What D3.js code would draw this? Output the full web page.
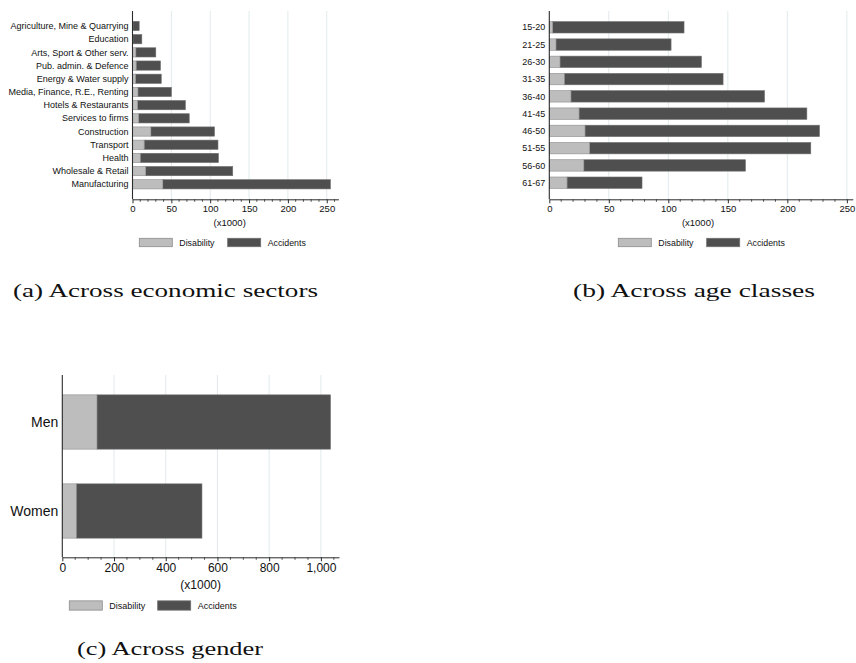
<!DOCTYPE html>
<html>
<head>
<meta charset="utf-8">
<script src="https://cdn.jsdelivr.net/npm/d3@7"></script>
<style>
  html, body { margin: 0; padding: 0; background: #fff; }
  svg { display: block; }
  .sans { font-family: "Liberation Sans", Arial, Helvetica, sans-serif; }
  .serif { font-family: "Liberation Serif", "Times New Roman", serif; }
</style>
</head>
<body>
<svg id="chart" width="856" height="663"></svg>
<script>
// Economic sectors (thousands)
const sectors = ["Agriculture, Mine & Quarrying", "Education", "Arts, Sport & Other serv.",
  "Pub. admin. & Defence", "Energy & Water supply", "Media, Finance, R.E., Renting",
  "Hotels & Restaurants", "Services to firms", "Construction", "Transport", "Health",
  "Wholesale & Retail", "Manufacturing"];
const sectorDisability = [0.5, 0.5, 4.3, 4.7, 4, 7, 6.5, 8, 23.6, 15, 10, 17, 39];
const sectorAccidents  = [8.1, 11.5, 25.7, 31.3, 33, 43, 61.5, 65, 81.9, 95, 100.6, 112, 215.7];

// Age classes (thousands)
const ageClasses = ["15-20", "21-25", "26-30", "31-35", "36-40", "41-45", "46-50", "51-55", "56-60", "61-67"];
const ageDisability = [2.8, 5.6, 9, 12.6, 18.2, 25, 30, 33.9, 29, 14.9];
const ageAccidents  = [110.4, 96.7, 118.8, 133.4, 162.6, 191.4, 197, 185.8, 135.8, 63];

// Gender (thousands)
const genders = ["Men", "Women"];
const genderDisability = [134, 54];
const genderAccidents  = [903, 486];

// Axis ticks
const ticksSmall = [0, 50, 100, 150, 200, 250];
const ticksLarge = [0, 200, 400, 600, 800, 1000];
const seriesNames = ["Disability", "Accidents"];

const LIGHT = "#bdbdbd", LIGHT_EDGE = "#8c8c8c";
const DARK = "#4f4f4f", DARK_EDGE = "#6e6e6e";
const GRID = "#e1eaed", AXIS = "#2b2b2b";

const svg = d3.select("#chart");

function panel(o) {
  const g = svg.append("g").attr("class", "sans");
  const x = d3.scaleLinear().domain([0, o.xMax]).range([o.x0, o.x1]);
  const y = d3.scalePoint().domain(o.cats).range([o.yFirst, o.yLast]);
  const bh = y.step() * o.barFrac;

  // gridlines
  g.selectAll("line.grid").data(o.ticks.filter(t => t > 0)).join("line")
    .attr("x1", d => x(d)).attr("x2", d => x(d))
    .attr("y1", o.yTop).attr("y2", o.yBottom)
    .attr("stroke", GRID).attr("stroke-width", 1);

  // stacked bars: disability then accidents
  const rows = o.cats.map((c, i) => ({ c, d: o.dis[i], a: o.acc[i] }));
  g.selectAll("rect.acc").data(rows).join("rect")
    .attr("x", r => x(r.d)).attr("width", r => x(r.d + r.a) - x(r.d))
    .attr("y", r => y(r.c) - bh / 2).attr("height", bh)
    .attr("fill", DARK).attr("stroke", DARK_EDGE).attr("stroke-width", 0.6);
  g.selectAll("rect.dis").data(rows).join("rect")
    .attr("x", r => x(0)).attr("width", r => x(r.d) - x(0))
    .attr("y", r => y(r.c) - bh / 2).attr("height", bh)
    .attr("fill", LIGHT).attr("stroke", LIGHT_EDGE).attr("stroke-width", 0.6);

  // category labels
  g.selectAll("text.cat").data(o.cats).join("text")
    .attr("x", o.x0 - 4).attr("y", d => y(d)).attr("dy", "0.35em")
    .attr("text-anchor", "end").attr("font-size", o.catSize).attr("fill", "#111")
    .text(d => d);

  // x axis with major and minor ticks
  const xAxis = g.append("g").attr("transform", `translate(0,${o.yBottom})`)
    .call(d3.axisBottom(x).tickValues(o.ticks).tickSize(4).tickSizeOuter(0)
      .tickFormat(d3.format(",")));
  xAxis.select(".domain").attr("stroke", AXIS);
  xAxis.selectAll(".tick line").attr("stroke", AXIS);
  xAxis.selectAll(".tick text").attr("font-size", o.tickSize).attr("font-family", null)
    .attr("fill", "#111").attr("y", 6);
  const minor = d3.range(0, o.xMax + 0.001, o.minorStep).filter(v => !o.ticks.includes(v));
  xAxis.selectAll("line.minor").data(minor).join("line")
    .attr("x1", d => x(d)).attr("x2", d => x(d)).attr("y1", 0).attr("y2", 2.5)
    .attr("stroke", AXIS).attr("stroke-width", 0.8);

  // y axis line
  g.append("line").attr("x1", o.x0).attr("x2", o.x0)
    .attr("y1", o.yTop).attr("y2", o.yBottom)
    .attr("stroke", AXIS).attr("stroke-width", 1.1);

  // axis title
  g.append("text").attr("x", o.titleX).attr("y", o.titleY).attr("dy", "0.35em")
    .attr("text-anchor", "middle").attr("font-size", o.tickSize).attr("fill", "#111")
    .text("(x1000)");

  // legend
  const lg = g.append("g");
  seriesNames.forEach((s, i) => {
    lg.append("rect").attr("x", o.legX[i]).attr("y", o.legY - o.legH / 2)
      .attr("width", 33).attr("height", o.legH)
      .attr("fill", i === 0 ? LIGHT : DARK)
      .attr("stroke", i === 0 ? LIGHT_EDGE : DARK_EDGE).attr("stroke-width", 0.8);
    lg.append("text").attr("x", o.legX[i] + 40).attr("y", o.legY).attr("dy", "0.35em")
      .attr("font-size", o.legSize).attr("fill", "#111").text(s);
  });

  // caption
  svg.append("text").attr("class", "serif")
    .attr("x", o.capX).attr("y", o.capY)
    .attr("font-size", 19.5).attr("fill", "#111")
    .attr("textLength", o.capW).attr("lengthAdjust", "spacingAndGlyphs")
    .text(o.caption);
}

panel({
  cats: sectors, dis: sectorDisability, acc: sectorAccidents, ticks: ticksSmall, minorStep: 10,
  xMax: 265, x0: 132.5, x1: 338.4, yFirst: 26, yLast: 184.3, yTop: 11, yBottom: 199.3,
  barFrac: 0.7, catSize: 9, tickSize: 9.5, titleX: 229.7, titleY: 222.7,
  legX: [139.3, 227.7], legY: 242.5, legH: 8.4, legSize: 8.8,
  capX: 13, capY: 296.5, capW: 305, caption: "(a) Across economic sectors"
});

panel({
  cats: ageClasses, dis: ageDisability, acc: ageAccidents, ticks: ticksSmall, minorStep: 10,
  xMax: 255, x0: 549.3, x1: 852.8, yFirst: 27.3, yLast: 182.7, yTop: 11, yBottom: 199.3,
  barFrac: 0.66, catSize: 9, tickSize: 9.5, titleX: 698, titleY: 222.7,
  legX: [618.3, 706.7], legY: 242.5, legH: 8.4, legSize: 8.8,
  capX: 573, capY: 296.5, capW: 242, caption: "(b) Across age classes"
});

panel({
  cats: genders, dis: genderDisability, acc: genderAccidents, ticks: ticksLarge, minorStep: 50,
  xMax: 1070, x0: 62.3, x1: 339, yFirst: 422, yLast: 511, yTop: 375, yBottom: 557.3,
  barFrac: 0.61, catSize: 14, tickSize: 12, titleX: 200.7, titleY: 585,
  legX: [69.3, 157.7], legY: 605.5, legH: 9.3, legSize: 9,
  capX: 77, capY: 655, capW: 186, caption: "(c) Across gender"
});
</script>
</body>
</html>
